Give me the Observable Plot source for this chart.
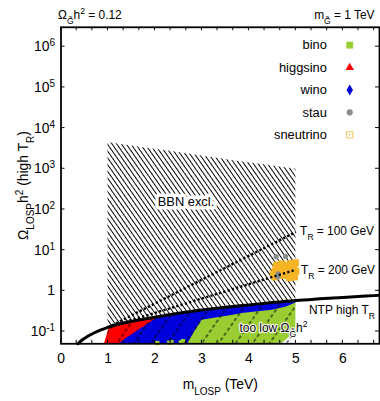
<!DOCTYPE html>
<html><head><meta charset="utf-8">
<script src="https://cdn.jsdelivr.net/npm/d3@7"></script>
<script src="https://cdn.jsdelivr.net/npm/@observablehq/plot@0.6"></script>
<style>
html,body{margin:0;padding:0;background:#fff;overflow:hidden}
#chart{width:380px;height:401px;overflow:hidden;position:relative}
</style></head><body><div id="chart"></div>
<script>
// ---------- data ----------
const xTicks = [0, 1, 2, 3, 4, 5, 6];
const xTickLabels = ["0", "1", "2", "3", "4", "5", "6"];
const xMinorTicks = [0.333, 0.667, 1.333, 1.667, 2.333, 2.667, 3.333, 3.667, 4.333, 4.667, 5.333, 5.667, 6.333, 6.667];
const yTicks = [0.1, 1, 10, 100, 1000, 1e4, 1e5, 1e6];
const yTickLabels = ["10^{-1}", "1", "10^{1}", "10^{2}", "10^{3}", "10^{4}", "10^{5}", "10^{6}"];
const yFloor = 0.05;

// NTP high T_R curve
const ntpX = [0.36, 0.45, 0.55, 0.7, 0.85, 1, 1.5, 2, 2.5, 3, 3.5, 4, 4.5, 5, 5.5, 6, 6.5, 6.8];
const ntpY = [0.05, 0.062, 0.074, 0.092, 0.11, 0.127, 0.178, 0.225, 0.28, 0.338, 0.395, 0.45, 0.515, 0.58, 0.635, 0.69, 0.745, 0.78];

// BBN excluded region (1-5 TeV)
const bbnX = [1, 1.5, 2, 2.5, 3, 3.5, 4, 4.5, 5];
const bbnLow = [0.127, 0.178, 0.225, 0.28, 0.338, 0.395, 0.45, 0.515, 0.58];
const bbnTop = [4400, 3650, 3000, 2500, 2050, 1700, 1400, 1170, 980];

// reheating temperature lines
const trX = [1, 5];
const tr100Y = [0.127, 28];
const tr200Y = [0.127, 3.3];

// scan point clouds (outlines of dense regions)
const redX = [0.93, 1.03, 1.25, 1.4, 1.55, 1.7, 1.85, 2.0, 2.06];
const redTop = [0.052, 0.128, 0.15, 0.165, 0.18, 0.195, 0.205, 0.215, 0.215];
const redBot = [0.05, 0.05, 0.05, 0.069, 0.09, 0.117, 0.151, 0.198, 0.215];

const blueX = [1.2, 1.5, 2.0, 2.5, 2.7, 2.85, 3.0, 3.3, 3.6, 3.9, 4.2, 4.5, 4.8, 5.0];
const blueTop = [0.148, 0.175, 0.222, 0.275, 0.295, 0.315, 0.332, 0.365, 0.4, 0.43, 0.47, 0.51, 0.55, 0.575];
const blueBot = [0.05, 0.05, 0.05, 0.05, 0.05, 0.1, 0.19, 0.215, 0.245, 0.28, 0.305, 0.335, 0.4, 0.5];

const greenX = [2.65, 2.85, 3.0, 3.3, 3.6, 3.9, 4.2, 4.5, 4.7, 4.85, 5.0];
const greenTop = [0.06, 0.11, 0.2, 0.225, 0.255, 0.29, 0.315, 0.345, 0.4, 0.47, 0.56];
const greenBot = [0.05, 0.05, 0.05, 0.05, 0.05, 0.05, 0.05, 0.05, 0.05, 0.07, 0.1];

const binoDotX = [2.05, 2.3, 2.35, 2.55, 2.6];
const binoDotY = [0.052, 0.053, 0.055, 0.054, 0.058];

const sneuX = [4.52, 4.55, 4.56, 4.58, 4.62, 4.66, 4.7, 4.74, 4.78, 4.83, 4.88, 4.92, 4.96, 4.99, 4.97, 4.6, 4.7, 4.8, 4.9, 4.95, 4.86, 5.0];
const sneuY = [2.6, 2.2, 3.0, 3.9, 2.6, 4.0, 3.2, 2.4, 4.2, 3.5, 4.6, 2.8, 3.9, 4.9, 2.2, 4.3, 4.6, 2.9, 3.3, 4.7, 2.1, 3.0];

const stauX = [4.58, 4.78, 4.62, 4.62];
const stauY = [6.9, 7.0, 2.6, 2.2];

// annotations
const annoText = ["BBN excl.", "T_{R} = 100 GeV", "T_{R} = 200 GeV", "NTP high T_{R}", "too low Ω_{G̃}h^{2}"];
const annoX = [2.66, 5.09, 5.11, 5.28, 3.8];
const annoY = [153, 28.5, 3.28, 0.337, 0.123];

const legendNames = ["bino", "higgsino", "wino", "stau", "sneutrino"];

// ---------- styles ----------
const C = {bino: "#9acd32", higgsino: "#ff0000", wino: "#0000dd", stau: "#8c8c8c", sneutrino: "#f6b526", sneuLegend: "#f2c45a"};

const zip = (xs, cols) => xs.map((x, i) => Object.fromEntries([["x", x], ...Object.entries(cols).map(([k, v]) => [k, v[i]])]));
const ntp = zip(ntpX, {y: ntpY});
const bbn = zip(bbnX, {lo: bbnLow, hi: bbnTop});
const tr100 = zip(trX, {y: tr100Y});
const tr200 = zip(trX, {y: tr200Y});
const red = zip(redX, {lo: redBot, hi: redTop});
const blue = zip(blueX, {lo: blueBot, hi: blueTop});
const green = zip(greenX, {lo: greenBot, hi: greenTop});
const binoDots = zip(binoDotX, {y: binoDotY});
const sneu = zip(sneuX, {y: sneuY});
const stau = zip(stauX, {y: stauY});
const anno = zip(annoX, {y: annoY, t: annoText});

const legendSym = {
  bino: {symbol: "square", fill: C.bino, r: 3.9},
  higgsino: {symbol: "triangle", fill: C.higgsino, r: 3.2},
  wino: {symbol: "diamond", fill: C.wino, r: 3.4},
  stau: {symbol: "circle", fill: C.stau, r: 3.1},
  sneutrino: {symbol: "square", fill: "none", stroke: C.sneuLegend, strokeWidth: 1, r: 3.6}
};

const legendMarks = legendNames.flatMap((name, i) => {
  const dy = 18 + i * 22.6;
  const ms = [
    Plot.text([name], {frameAnchor: "top-right", dx: -53, dy, text: d => d, textAnchor: "end", lineAnchor: "middle", fontSize: 13}),
    Plot.dot([name], {frameAnchor: "top-right", dx: -30, dy, ...legendSym[name]})
  ];
  if (name === "sneutrino") ms.push(Plot.dot([name], {frameAnchor: "top-right", dx: -30, dy, r: 0.9, fill: C.sneuLegend}));
  return ms;
});

const dotted = {stroke: "black", strokeWidth: 2.4, strokeDasharray: "2.2,2.3", strokeLinecap: "butt"};

const plot = Plot.plot({
  width: 383, height: 401,
  marginLeft: 61, marginRight: 1, marginTop: 27, marginBottom: 55,
  style: {fontFamily: "'Liberation Sans', Arial, sans-serif", fontSize: "14px", color: "black", background: "white", overflow: "visible"},
  x: {domain: [0, 6.78], ticks: xTicks, tickFormat: d => xTickLabels[xTicks.indexOf(d)], tickSize: 0, tickPadding: 9, label: null},
  y: {type: "log", domain: [yFloor, 3e6], ticks: yTicks, tickFormat: d => yTickLabels[yTicks.indexOf(d)], tickSize: 0, tickPadding: 6, label: null},
  marks: [
    Plot.areaY(bbn, {x: "x", y1: "lo", y2: "hi", fill: "#010101", curve: "monotone-x"}),
    Plot.areaY(green, {x: "x", y1: "lo", y2: "hi", fill: C.bino}),
    Plot.areaY(blue, {x: "x", y1: "lo", y2: "hi", fill: C.wino}),
    Plot.areaY(red, {x: "x", y1: "lo", y2: "hi", fill: C.higgsino}),
    Plot.dot(binoDots, {x: "x", y: "y", symbol: "square", r: 2.5, fill: C.bino}),
    Plot.areaY(bbn, {x: "x", y1: () => yFloor, y2: "lo", fill: "#020202", curve: "monotone-x"}),
    Plot.dot(sneu, {x: "x", y: "y", symbol: "square", r: 4, fill: C.sneutrino}),
    Plot.dot(stau, {x: "x", y: "y", r: 2.6, fill: C.stau}),
    Plot.line(tr100, {x: "x", y: "y", ...dotted}),
    Plot.line(tr200, {x: "x", y: "y", ...dotted}),
    Plot.line(ntp, {x: "x", y: "y", stroke: "black", strokeWidth: 3, curve: "monotone-x"}),
    Plot.text(anno.slice(0, 1), {x: "x", y: "y", text: "t", textAnchor: "middle", lineAnchor: "middle", fontSize: 13, fill: "black", stroke: "white", strokeWidth: 7, paintOrder: "stroke"}),
    Plot.text(anno.slice(1, 4), {x: "x", y: "y", text: "t", textAnchor: "start", lineAnchor: "middle", fontSize: 12, fill: "black"}),
    Plot.text(anno.slice(4), {x: "x", y: "y", text: "t", textAnchor: "start", lineAnchor: "middle", fontSize: 12, fill: "black", stroke: "white", strokeWidth: 2, paintOrder: "stroke"}),
    Plot.frame({stroke: "black", strokeWidth: 1.8}),
    Plot.text(["Ω_{G̃}h^{2} = 0.12"], {frameAnchor: "top-left", dx: -3, dy: -12, text: d => d, textAnchor: "start", lineAnchor: "middle", fontSize: 12}),
    Plot.text(["m_{G̃} = 1 TeV"], {frameAnchor: "top-right", dx: -5, dy: -12, text: d => d, textAnchor: "end", lineAnchor: "middle", fontSize: 12}),
    Plot.text(["m_{LOSP} (TeV)"], {frameAnchor: "bottom", dy: 41.5, text: d => d, textAnchor: "middle", lineAnchor: "middle", fontSize: 14}),
    Plot.text(["Ω_{LOSP}h^{2} (high T_{R})"], {frameAnchor: "left", dx: -38, rotate: -90, text: d => d, textAnchor: "middle", lineAnchor: "middle", fontSize: 14}),
    ...legendMarks
  ]
});

// rich text: _{sub} and ^{sup}
const esc = s => s.replace(/&/g, "&amp;").replace(/</g, "&lt;");
function rich(s) {
  const re = /([_^])\{([^}]*)\}/g;
  let out = "", last = 0, m;
  while ((m = re.exec(s))) {
    out += esc(s.slice(last, m.index));
    out += `<tspan font-size="72%" baseline-shift="${m[1] === "_" ? "sub" : "super"}">${esc(m[2])}</tspan>`;
    last = re.lastIndex;
  }
  return out + esc(s.slice(last));
}
plot.querySelectorAll("text").forEach(t => {
  if (/[_^]\{/.test(t.textContent)) t.innerHTML = rich(t.textContent);
});

// hatch patterns
const ns = "http://www.w3.org/2000/svg";
const defs = document.createElementNS(ns, "defs");
defs.innerHTML = `
<pattern id="hatchBBN" patternUnits="userSpaceOnUse" width="3.9" height="20" patternTransform="rotate(-35)">
  <line x1="1" y1="-1" x2="1" y2="21" stroke="#000" stroke-width="1" shape-rendering="crispEdges"/>
</pattern>
<pattern id="hatchLow" patternUnits="userSpaceOnUse" width="14" height="12" patternTransform="rotate(35)">
  <line x1="1" y1="0" x2="1" y2="12" stroke="#000" stroke-width="1" stroke-dasharray="3.5 2.5"/>
</pattern>`;
plot.insertBefore(defs, plot.firstChild);
plot.querySelectorAll('[fill="#010101"]').forEach(e => e.setAttribute("fill", "url(#hatchBBN)"));
plot.querySelectorAll('[fill="#020202"]').forEach(e => e.setAttribute("fill", "url(#hatchLow)"));

// inward ticks on all four sides, through the plot's scales
const sx = plot.scale("x"), sy = plot.scale("y");
const [yb, yt] = sy.range, [xl, xr] = sx.range;
const g = d3.select(plot).append("g").attr("stroke", "black").attr("stroke-width", 1);
[...xTicks, ...xMinorTicks].forEach(v => {
  const X = sx.apply(v);
  g.append("line").attr("x1", X).attr("x2", X).attr("y1", yb).attr("y2", yb - 3.5);
  g.append("line").attr("x1", X).attr("x2", X).attr("y1", yt).attr("y2", yt + 3.5);
});
yTicks.forEach(v => {
  const Y = sy.apply(v);
  g.append("line").attr("y1", Y).attr("y2", Y).attr("x1", xl).attr("x2", xl + 4);
  g.append("line").attr("y1", Y).attr("y2", Y).attr("x1", xr).attr("x2", xr - 4);
});

document.getElementById("chart").appendChild(plot);
</script></body></html>
